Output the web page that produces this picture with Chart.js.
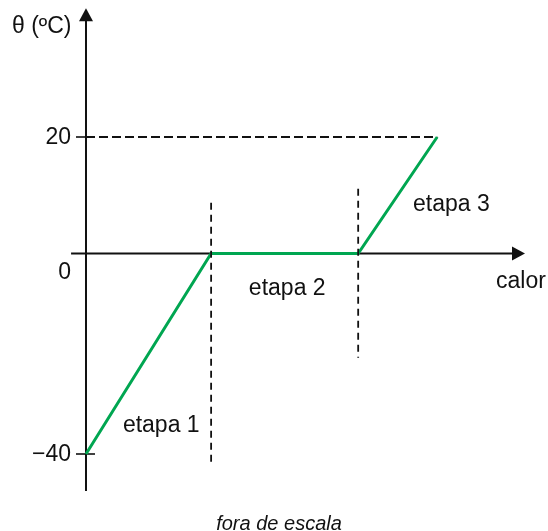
<!DOCTYPE html>
<html>
<head>
<meta charset="utf-8">
<script src="https://cdn.jsdelivr.net/npm/chart.js@4/dist/chart.umd.min.js"></script>
<style>
html, body { margin: 0; padding: 0; background: #ffffff; }
canvas { display: block; }
</style>
</head>
<body>
<canvas id="heatingChart" width="548" height="531"></canvas>
<script>
// heating curve (not to scale): temperature vs heat supplied
const calor = [0, 28.5, 62, 80];
const temperatura = [-40, 0, 0, 20];
const yTicks = [20, 0, -40];
const yTickLabels = ['20', '0', '\u221240'];
const etapaBoundaries = [28.5, 62];
const etapaLabels = ['etapa 1', 'etapa 2', 'etapa 3'];

const GREEN = '#00a651';
const FONT = '"Liberation Sans", Arial, sans-serif';

// piecewise y scale, the picture is "fora de escala"
const yStops = [
{ value: -40, pos: 454 / 531 },
{ value: 0, pos: 253.5 / 531 },
{ value: 20, pos: 137 / 531 }
];

class PiecewiseScale extends Chart.LinearScale {
static id = 'piecewise';
static defaults = Chart.LinearScale.defaults;
getPixelForValue(value) {
let i = 0;
while (i < yStops.length - 2 && value > yStops[i + 1].value) i++;
const a = yStops[i], b = yStops[i + 1];
const f = a.pos + (value - a.value) * (b.pos - a.pos) / (b.value - a.value);
return this.top + f * (this.bottom - this.top);
}
getValueForPixel(pixel) {
const f = (pixel - this.top) / (this.bottom - this.top);
let i = 0;
while (i < yStops.length - 2 && f < yStops[i + 1].pos) i++;
const a = yStops[i], b = yStops[i + 1];
return a.value + (f - a.pos) * (b.value - a.value) / (b.pos - a.pos);
}
}
Chart.register(PiecewiseScale);

const axesPlugin = {
id: 'axesPlugin',
beforeDatasetsDraw(chart) {
const ctx = chart.ctx;
const x = chart.scales.x, y = chart.scales.y;
const x0 = x.getPixelForValue(0), y0 = y.getPixelForValue(0);
const yTop = y.getPixelForValue(42.1), yBottom = y.getPixelForValue(-47.4);
const xLeft = x.getPixelForValue(-3.4), xRight = x.getPixelForValue(100);
ctx.save();
ctx.strokeStyle = '#111111';
ctx.fillStyle = '#111111';
ctx.lineWidth = 2;
// vertical axis
ctx.beginPath();
ctx.moveTo(x0, yBottom);
ctx.lineTo(x0, yTop + 12);
ctx.stroke();
ctx.beginPath();
ctx.moveTo(x0, yTop);
ctx.lineTo(x0 - 7, yTop + 13);
ctx.lineTo(x0 + 7, yTop + 13);
ctx.closePath();
ctx.fill();
// horizontal axis
ctx.beginPath();
ctx.moveTo(xLeft, y0);
ctx.lineTo(xRight - 12, y0);
ctx.stroke();
ctx.beginPath();
ctx.moveTo(xRight, y0);
ctx.lineTo(xRight - 13, y0 - 7);
ctx.lineTo(xRight - 13, y0 + 7);
ctx.closePath();
ctx.fill();
// tick marks
ctx.lineWidth = 1.6;
yTicks.forEach(t => {
if (t === 0) return;
const py = y.getPixelForValue(t);
ctx.beginPath();
ctx.moveTo(x0 - 10, py);
ctx.lineTo(x0 + 9, py);
ctx.stroke();
});
ctx.restore();
},
afterDraw(chart) {
const ctx = chart.ctx;
const x = chart.scales.x, y = chart.scales.y;
const x0 = x.getPixelForValue(0);
ctx.save();
ctx.fillStyle = '#111111';
ctx.font = '23px ' + FONT;
// tick labels
ctx.textAlign = 'right';
ctx.textBaseline = 'middle';
yTicks.forEach((t, i) => {
const py = y.getPixelForValue(t) + (t === 0 ? 19 : 1);
ctx.fillText(yTickLabels[i], x0 - 15, py);
});
// axis titles
ctx.textAlign = 'left';
ctx.textBaseline = 'alphabetic';
ctx.fillText('\u03b8 (\u00baC)', 12, 33);
ctx.fillText('calor', x.getPixelForValue(93.4), y.getPixelForValue(-6.9));
// stage labels
const labelPos = [[8.4, -35.6], [37.1, -8.3], [74.5, 7.3]];
etapaLabels.forEach((txt, i) => {
ctx.fillText(txt, x.getPixelForValue(labelPos[i][0]), y.getPixelForValue(labelPos[i][1]));
});
ctx.font = 'italic 20px ' + FONT;
ctx.textAlign = 'center';
ctx.fillText('fora de escala', 279, 530);
ctx.restore();
}
};

const guideStyle = {
showLine: true,
borderColor: '#111111',
borderWidth: 1.8,
borderDash: [9, 4],
pointRadius: 0,
fill: false
};

new Chart(document.getElementById('heatingChart'), {
type: 'scatter',
data: {
datasets: [
Object.assign({
label: 'guia 20',
data: [{ x: 0, y: 20 }, { x: calor[3], y: temperatura[3] }]
}, guideStyle),
Object.assign({
label: 'limite 1',
data: [{ x: etapaBoundaries[0], y: 8.7 }, { x: etapaBoundaries[0], y: -42.4 }]
}, guideStyle, { borderDash: [7, 5] }),
Object.assign({
label: 'limite 2',
data: [{ x: etapaBoundaries[1], y: 11.1 }, { x: etapaBoundaries[1], y: -20.8 }]
}, guideStyle, { borderDash: [7, 5] }),
{
label: 'temperatura',
data: calor.map((c, i) => ({ x: c, y: temperatura[i] })),
showLine: true,
borderColor: GREEN,
borderWidth: 3,
pointRadius: 0,
tension: 0,
fill: false
}
]
},
options: {
responsive: false,
animation: false,
layout: { padding: 0 },
plugins: {
legend: { display: false },
tooltip: { enabled: false }
},
scales: {
x: { type: 'linear', min: -19.59, max: 105.24, display: false },
y: { type: 'piecewise', min: -47.4, max: 42.1, display: false }
}
},
plugins: [axesPlugin]
});
</script>
</body>
</html>
